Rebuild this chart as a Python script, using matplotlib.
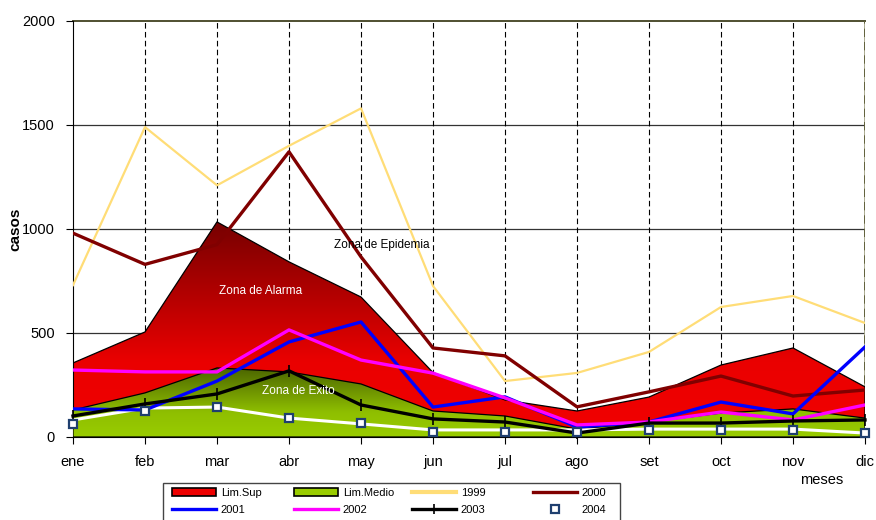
import numpy as np
import matplotlib
matplotlib.use('Agg')
import matplotlib.pyplot as plt
from matplotlib.colors import LinearSegmentedColormap
from matplotlib.lines import Line2D
from matplotlib.patches import Patch, Rectangle

plt.rcParams['font.family'] = ['Liberation Sans', 'DejaVu Sans']

# casos mensuales y limites del canal endemico
meses = ['ene', 'feb', 'mar', 'abr', 'may', 'jun', 'jul', 'ago', 'set', 'oct', 'nov', 'dic']
lim_sup = [356, 505, 1034, 842, 673, 310, 178, 125, 192, 346, 428, 241]
lim_medio = [130, 212, 332, 313, 255, 125, 101, 38, 72, 115, 135, 91]
lim_inf = [82, 139, 144, 91, 63, 34, 34, 34, 38, 38, 38, 19]
c1999 = [730, 1490, 1210, 1400, 1580, 726, 269, 308, 409, 625, 678, 548]
c2000 = [980, 830, 925, 1371, 866, 428, 390, 145, 217, 293, 197, 226]
c2001 = [135, 130, 269, 457, 553, 144, 193, 48, 72, 168, 111, 433]
c2002 = [322, 313, 313, 515, 370, 307, 188, 58, 72, 120, 82, 154]
c2003 = [101, 159, 207, 318, 154, 87, 72, 19, 67, 67, 77, 82]
c2004 = [63, 125, 144, 91, 67, 24, 24, 24, 34, 34, 34, 19]

x = np.arange(len(meses))

fig = plt.figure(figsize=(8.76, 5.2), dpi=100)
ax = fig.add_axes([73 / 876, 83 / 520, 792 / 876, 416 / 520])


def area_degradada(ax, x, y, colores, zorder):
    # area con borde negro rellena con un degradado vertical
    borde = ax.fill_between(x, 0, y, facecolor='none', edgecolor='black', lw=0.9, zorder=zorder + 0.1)
    cmap = LinearSegmentedColormap.from_list('deg', colores)
    grad = np.linspace(0, 1, 256).reshape(-1, 1)
    img = ax.imshow(grad, cmap=cmap, aspect='auto', origin='lower',
                    extent=(x[0], x[-1], 0, max(y)), zorder=zorder, interpolation='bilinear')
    img.set_clip_path(borde.get_paths()[0], transform=ax.transData)


area_degradada(ax, x, lim_sup, [(0, '#f20000'), (0.35, '#ea0000'), (1, '#760000')], 2)
area_degradada(ax, x, lim_medio, [(0, '#99cc00'), (0.35, '#8fbf00'), (1, '#4a6400')], 3)

ax.plot(x, c1999, color='#ffdd77', lw=1.6, zorder=5)
ax.plot(x, c2000, color='#800000', lw=2.4, zorder=5)
ax.plot(x, lim_inf, color='white', lw=2.2, zorder=5)
ax.plot(x, c2001, color='#0000ff', lw=2.4, zorder=6)
ax.plot(x, c2002, color='#ff00ff', lw=2.4, zorder=6)
ax.plot(x, c2003, color='black', lw=2.4, marker='|', ms=8, mew=1.2, zorder=7, clip_on=False)
ax.plot(x, c2004, ls='none', marker='s', ms=6, mfc='white', mec='#1f3f6f', mew=1.6, zorder=8,
        clip_on=False)

ax.set_xlim(0, 11)
ax.set_ylim(0, 2000)
ax.set_yticks([0, 500, 1000, 1500, 2000])
ax.set_xticks(x)
ax.set_xticklabels(meses)
ax.set_xticks(x[:-1] + 0.5, minor=True)
ax.tick_params(axis='x', which='major', direction='out', length=5, pad=8, labelsize=10.5)
ax.tick_params(axis='x', which='minor', direction='in', length=4)
ax.tick_params(axis='y', direction='out', length=5, pad=8, labelsize=10.5)

# rejilla: horizontales continuas, verticales a trazos
for v in [500, 1000, 1500]:
    ax.axhline(v, color='#333333', lw=0.9, zorder=1)
for xi in x[1:-1]:
    ax.axvline(xi, color='black', lw=0.8, ls=(0, (5, 3)), zorder=1)
for s in ['top', 'right']:
    ax.spines[s].set_visible(False)
ax.axhline(2000, color='#4f4f30', lw=1.4, zorder=1.5, clip_on=False)
ax.axvline(11, color='#a4a488', lw=2, zorder=1.5)
ax.axvline(11, color='#55552f', lw=1.2, ls=(0, (5, 3)), zorder=1.6)

ax.text(4.29, 925, 'Zona de Epidemia', color='black', fontsize=8.5, ha='center', va='center', zorder=9)
ax.text(2.61, 700, 'Zona de Alarma', color='white', fontsize=8.5, ha='center', va='center', zorder=9)
ax.text(3.125, 222, 'Zona de Exito', color='white', fontsize=8.5, ha='center', va='center', zorder=9)

fig.text(15 / 876, 1 - 229 / 520, 'casos', rotation=90, fontsize=11, fontweight='bold',
         ha='center', va='center')
fig.text(822 / 876, 1 - 480 / 520, 'meses', fontsize=10.5, ha='center', va='center')

# leyenda en cuatro columnas de ancho fijo
entradas = [
    [(Patch(facecolor='#ee0000', edgecolor='black', lw=1.2), 'Lim.Sup'),
     (Line2D([], [], color='#0000ff', lw=2.4), '2001')],
    [(Patch(facecolor='#99cc00', edgecolor='black', lw=1.2), 'Lim.Medio'),
     (Line2D([], [], color='#ff00ff', lw=2.4), '2002')],
    [(Line2D([], [], color='#ffdd77', lw=3), '1999'),
     (Line2D([], [], color='black', lw=2.4, marker='|', ms=7, mew=1.2), '2003')],
    [(Line2D([], [], color='#800000', lw=2.4), '2000'),
     (Line2D([], [], ls='none', marker='s', ms=6, mfc='white', mec='#1f3f6f', mew=1.6), '2004')],
]
for col, xpx in zip(entradas, [172, 294, 412, 533]):
    fig.legend([h for h, _ in col], [t for _, t in col], loc='upper left',
               bbox_to_anchor=(xpx / 876, 1 - 488 / 520), frameon=False, fontsize=8,
               borderpad=0, borderaxespad=0, handlelength=4.0, handletextpad=0.4,
               labelspacing=0.6, numpoints=1)
fig.add_artist(Rectangle((163 / 876, -0.05), 457 / 876, 0.05 + 37 / 520,
                         transform=fig.transFigure, facecolor='none', edgecolor='#444444', lw=1))

fig.savefig('out.png', dpi=100)
